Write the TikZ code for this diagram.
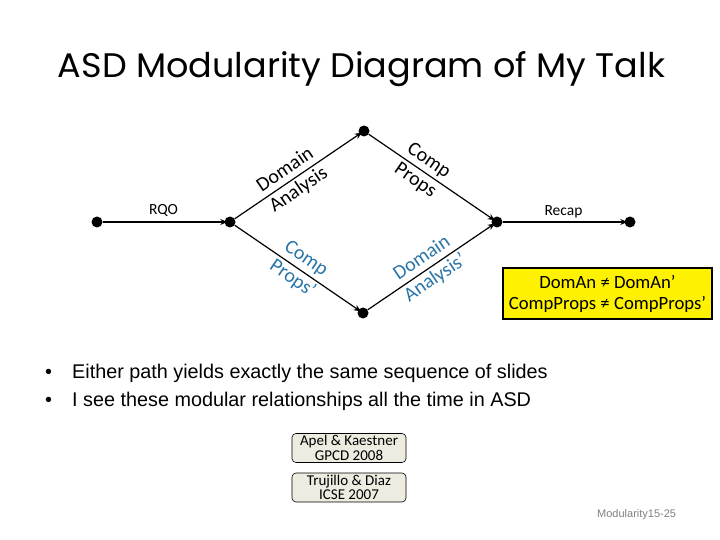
\documentclass[tikz,border=0pt]{standalone}
\usepackage{graphicx}
\usepackage{fontspec}
\setmainfont{Carlito}
\newfontfamily\arialf{Liberation Sans}
\newfontfamily\titlef{Poppins}
\usetikzlibrary{arrows.meta}
\definecolor{lblblue}{HTML}{2A74A8}
\definecolor{boxgray}{HTML}{EEECE1}
\begin{document}
\begin{tikzpicture}[x=1pt,y=-1pt,
  dot/.style={circle,fill=black,inner sep=0pt,minimum size=11pt},
  flow/.style={line width=1.2pt,-{Stealth[length=7pt,width=6pt]},shorten >=-3pt},
  lbl/.style={font=\fontsize{20}{24}\selectfont,align=center,inner sep=0pt},
  smalllbl/.style={font=\fontsize{15.5}{17}\selectfont,inner sep=0pt},
  citebox/.style={draw,line width=0.6pt,rounded corners=4pt,fill=boxgray,minimum width=114pt,minimum height=29pt,align=center,inner sep=0pt,font=\fontsize{15}{14.5}\selectfont},
  bullettext/.style={anchor=base west,inner sep=0pt,font=\arialf\fontsize{19.8}{22}\selectfont}]
\useasboundingbox (0,0) rectangle (720,540);
% title
\node[anchor=base,inner sep=0pt] (title) at (361.5,78) {\resizebox{607pt}{26pt}{\titlef ASD Modularity Diagram of My Talk}};
% nodes
\node[dot] (a) at (97,222) {};
\node[dot] (b) at (230,222) {};
\node[dot] (c) at (364,131) {};
\node[dot] (d) at (497,222) {};
\node[dot] (e) at (630,222) {};
\node[dot] (f) at (363,313) {};
% connectors
\draw[flow] (a) -- node[smalllbl,midway,yshift=12pt] {RQO} (b);
\draw[flow] (b) -- node[lbl,pos=0.46,sloped] {Domain\\Analysis} (c);
\draw[flow] (c) -- node[lbl,pos=0.43,sloped] {Comp\\Props} (d);
\draw[flow] (d) -- node[smalllbl,midway,yshift=10pt] {Recap} (e);
\draw[flow] (b) -- node[lbl,pos=0.52,sloped,text=lblblue] {Comp\\Props’} (f);
\draw[flow] (f) -- node[lbl,pos=0.49,sloped,text=lblblue] {Domain\\Analysis’} (d);
% yellow box
\node[draw,line width=2.5pt,fill=yellow,minimum width=209pt,minimum height=51pt,align=center,inner sep=0pt,font=\fontsize{18.7}{21}\selectfont] (eq) at (607.5,293.5) {DomAn ≠ DomAn’\\CompProps ≠ CompProps’};
% bullets
\node[bullettext] (bul1) at (45,378) {•};
\node[bullettext] (txt1) at (72,378) {Either path yields exactly the same sequence of slides};
\node[bullettext] (bul2) at (45,406) {•};
\node[bullettext] (txt2) at (72,406) {I see these modular relationships all the time in ASD};
% citations
\node[citebox] (cite1) at (349,448) {Apel \& Kaestner\\GPCD 2008};
\node[citebox] (cite2) at (349,487.5) {Trujillo \& Diaz\\ICSE 2007};
% footer
\node[anchor=west,inner sep=0pt,text=black!50,font=\arialf\fontsize{11}{13}\selectfont] (ftr) at (597,515) {Modularity15-25};
\end{tikzpicture}
\end{document}
